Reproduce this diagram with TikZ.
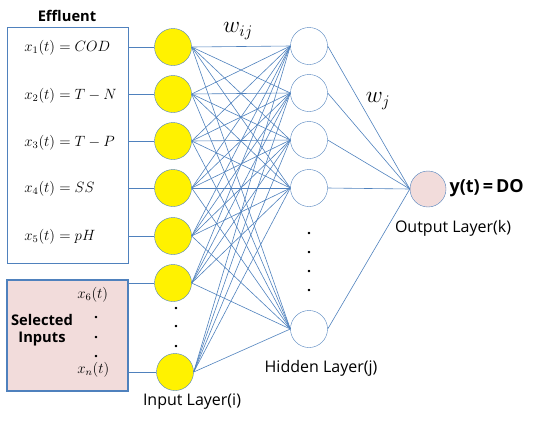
\documentclass[tikz,border=0pt]{standalone}
\usepackage{fontspec}
\setsansfont{Open Sans}
\usepackage{amsmath}
\definecolor{lineblue}{HTML}{4F81BD}
\definecolor{pinkfill}{HTML}{F2DCDB}
\begin{document}
\begin{tikzpicture}[x=1pt,y=-1pt,
  innode/.style={circle,draw=lineblue,fill=yellow,minimum size=37pt,inner sep=0pt},
  hidnode/.style={circle,draw=lineblue,fill=white,minimum size=37pt,inner sep=0pt},
  outnode/.style={circle,draw=lineblue,fill=pinkfill,minimum size=36pt,inner sep=0pt},
  link/.style={draw=lineblue,line width=0.6pt},
  lbl/.style={font=\sffamily\fontsize{16}{18}\selectfont},
  boldlbl/.style={font=\sffamily\bfseries\fontsize{14.7}{17}\selectfont},
  var/.style={font=\fontsize{12}{14}\selectfont,scale=1.24},
  vdot/.style={font=\sffamily\bfseries\fontsize{14}{16}\selectfont,inner sep=0pt},
  wt/.style={font=\fontsize{17.28}{20}\selectfont,scale=1.35}]
\useasboundingbox (0,0) rectangle (537,421);

\node[draw=lineblue,line width=0.8pt,minimum width=121pt,minimum height=236pt,inner sep=0pt] (effbox) at (67.5,145) {};
\node[boldlbl] (efftitle) at (67,16) {Effluent};
\node[draw=lineblue,line width=1.6pt,fill=pinkfill,minimum width=121pt,minimum height=111pt,inner sep=0pt] (selbox) at (67.5,335.5) {};
\node[boldlbl,align=center] (seltitle) at (42,330) {Selected\\Inputs};

\node[var,right] (x1) at (20,48) {$x_1(t) = COD$};
\node[var,right] (x2) at (20,96) {$x_2(t) = T - N$};
\node[var,right] (x3) at (20,143) {$x_3(t) = T - P$};
\node[var,right] (x4) at (20,189) {$x_4(t) = SS$};
\node[var,right] (x5) at (20,237) {$x_5(t) = pH$};
\node[var,right] (x6) at (73,295) {$x_6(t)$};
\node[var,right] (xn) at (73,370) {$x_n(t)$};
\node[vdot] (xdot1) at (96,318) {.};
\node[vdot] (xdot2) at (96,338) {.};
\node[vdot] (xdot3) at (96,357) {.};

\node[innode] (i1) at (173,47) {};
\node[innode] (i2) at (173,94) {};
\node[innode] (i3) at (173,141) {};
\node[innode] (i4) at (173,188) {};
\node[innode] (i5) at (173,236) {};
\node[innode] (i6) at (173,283) {};
\node[innode] (in) at (175,372) {};
\node[vdot] (idot1) at (176,309) {.};
\node[vdot] (idot2) at (176,327) {.};
\node[vdot] (idot3) at (176,347) {.};

\node[hidnode] (h1) at (309,46) {};
\node[hidnode] (h2) at (309,93) {};
\node[hidnode] (h3) at (309,140) {};
\node[hidnode] (h4) at (309,188) {};
\node[hidnode] (hn) at (309,329) {};
\node[vdot] (hdot1) at (309,234) {.};
\node[vdot] (hdot2) at (309,253) {.};
\node[vdot] (hdot3) at (309,272) {.};
\node[vdot] (hdot4) at (309,291) {.};

\node[outnode] (out) at (428,189) {};
\node[font=\sffamily\bfseries\fontsize{18}{20}\selectfont,right] (ytext) at (446,188) {y(t)\,=\,DO};

\draw[link] (effbox.east |- i1) -- (i1.west);
\draw[link] (effbox.east |- i2) -- (i2.west);
\draw[link] (effbox.east |- i3) -- (i3.west);
\draw[link] (effbox.east |- i4) -- (i4.west);
\draw[link] (effbox.east |- i5) -- (i5.west);
\draw[link] (selbox.east |- i6) -- (i6.west);
\draw[link] (selbox.east |- in) -- (in.west);

\foreach \a in {i1,i2,i3,i4,i5,i6,in}
  \foreach \b in {h1,h2,h3,h4,hn}
    \draw[link] (\a.east) -- (\b.west);
\foreach \b in {h1,h2,h3,h4,hn}
  \draw[link] (\b.east) -- (out.west);

\node[wt] (wij) at (238,31) {$w_{ij}$};
\node[wt] (wj) at (378,101) {$w_j$};

\node[lbl] (inlabel) at (192,402) {Input Layer(i)};
\node[lbl] (hidlabel) at (321,368) {Hidden Layer(j)};
\node[lbl] (outlabel) at (453,228) {Output Layer(k)};
\end{tikzpicture}
\end{document}
